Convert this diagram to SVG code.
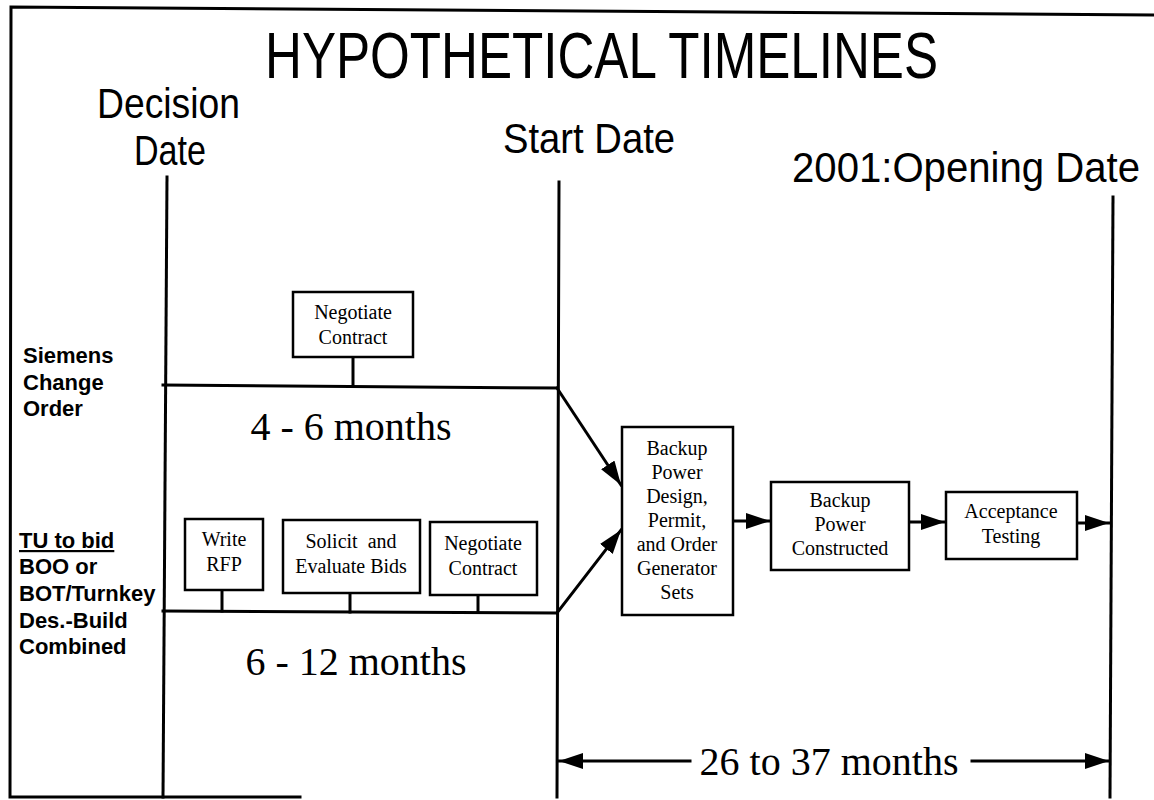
<svg xmlns="http://www.w3.org/2000/svg" width="1154" height="800" viewBox="0 0 1154 800">
<style>
.ln{stroke:#000;stroke-width:3;fill:none;stroke-linecap:square}
.bx{stroke:#000;stroke-width:2.5;fill:#fff}
.hd{font-family:"Liberation Sans",Arial,sans-serif;fill:#000}
.lb{font-family:"Liberation Sans",Arial,sans-serif;font-weight:bold;font-size:22px;fill:#000}
.tm{font-family:"Liberation Serif","Times New Roman",serif;fill:#000;text-anchor:middle}
.sm{font-size:20px}
.bg{font-size:40px}
</style>
<defs>
<marker id="ah" markerUnits="userSpaceOnUse" markerWidth="26" markerHeight="18" refX="24" refY="8" orient="auto">
<path d="M0,0 L24,8 L0,16 Z" fill="#000"/>
</marker>
</defs>
<rect width="1154" height="800" fill="#fff"/>
<g id="frame">
<path class="ln" d="M1154,15 L11,7 L10,797 L300,797"/>
</g>
<g id="title"><text class="hd" x="265" y="78" font-size="64" textLength="673" lengthAdjust="spacingAndGlyphs">HYPOTHETICAL TIMELINES</text></g>
<g id="decision-date">
<text class="hd" x="97" y="118" font-size="42" textLength="143" lengthAdjust="spacingAndGlyphs">Decision</text>
<text class="hd" x="134" y="165" font-size="42" textLength="72" lengthAdjust="spacingAndGlyphs">Date</text>
</g>
<g id="start-date"><text class="hd" x="503" y="153" font-size="42" textLength="172" lengthAdjust="spacingAndGlyphs">Start Date</text></g>
<g id="opening-date"><text class="hd" x="792" y="182" font-size="42" textLength="348" lengthAdjust="spacingAndGlyphs">2001:Opening Date</text></g>
<g id="siemens-label">
<text class="lb" x="23" y="363">Siemens</text>
<text class="lb" x="23" y="390">Change</text>
<text class="lb" x="23" y="416">Order</text>
</g>
<g id="tu-label">
<text class="lb" x="19" y="548" text-decoration="underline">TU to bid</text>
<text class="lb" x="19" y="574">BOO or</text>
<text class="lb" x="19" y="601">BOT/Turnkey</text>
<text class="lb" x="19" y="628">Des.-Build</text>
<text class="lb" x="19" y="654">Combined</text>
</g>
<g id="connectors">
<path class="ln" d="M167,177 L163,797"/>
<path class="ln" d="M559,182 L557,797"/>
<path class="ln" d="M1113,197 L1110,797"/>
<path class="ln" d="M163,385 L557,388"/>
<path class="ln" d="M163,611 L557,613"/>
<path class="ln" d="M353,357 L353,386"/>
<path class="ln" d="M222,590 L222,611"/>
<path class="ln" d="M350,593 L350,612"/>
<path class="ln" d="M478,595 L478,612"/>
<path class="ln" d="M557,388 L621,485" marker-end="url(#ah)"/>
<path class="ln" d="M557,613 L621,530" marker-end="url(#ah)"/>
<path class="ln" d="M733,521 L770,521" marker-end="url(#ah)"/>
<path class="ln" d="M909,522 L945,522" marker-end="url(#ah)"/>
<path class="ln" d="M1077,523 L1109,523" marker-end="url(#ah)"/>
<path class="ln" d="M690,761 L559,761" marker-end="url(#ah)"/>
<path class="ln" d="M972,761 L1109,761" marker-end="url(#ah)"/>
</g>
<g id="negotiate-siemens">
<rect class="bx" x="293" y="292" width="120" height="65"/>
<text class="tm sm" x="353" y="319">Negotiate</text>
<text class="tm sm" x="353" y="344">Contract</text>
</g>
<g id="dur-siemens"><text class="tm bg" x="351" y="440">4 - 6 months</text></g>
<g id="write-rfp">
<rect class="bx" x="185" y="519" width="78" height="71"/>
<text class="tm sm" x="224" y="546">Write</text>
<text class="tm sm" x="224" y="571">RFP</text>
</g>
<g id="solicit">
<rect class="bx" x="283" y="520" width="137" height="73"/>
<text class="tm sm" x="351" y="548" xml:space="preserve">Solicit  and</text>
<text class="tm sm" x="351" y="573">Evaluate Bids</text>
</g>
<g id="negotiate-tu">
<rect class="bx" x="430" y="522" width="107" height="73"/>
<text class="tm sm" x="483" y="550">Negotiate</text>
<text class="tm sm" x="483" y="575">Contract</text>
</g>
<g id="dur-tu"><text class="tm bg" x="356" y="675">6 - 12 months</text></g>
<g id="backup-design">
<rect class="bx" x="622" y="427" width="111" height="188"/>
<text class="tm" font-size="20" x="677" y="455">Backup</text>
<text class="tm" font-size="20" x="677" y="479">Power</text>
<text class="tm" font-size="20" x="677" y="503">Design,</text>
<text class="tm" font-size="20" x="677" y="527">Permit,</text>
<text class="tm" font-size="20" x="677" y="551">and Order</text>
<text class="tm" font-size="20" x="677" y="575">Generator</text>
<text class="tm" font-size="20" x="677" y="599">Sets</text>
</g>
<g id="backup-constructed">
<rect class="bx" x="771" y="482" width="138" height="88"/>
<text class="tm" font-size="20" x="840" y="507">Backup</text>
<text class="tm" font-size="20" x="840" y="531">Power</text>
<text class="tm" font-size="20" x="840" y="555">Constructed</text>
</g>
<g id="acceptance">
<rect class="bx" x="946" y="492" width="131" height="67"/>
<text class="tm" font-size="20" x="1011" y="518">Acceptance</text>
<text class="tm" font-size="20" x="1011" y="543">Testing</text>
</g>
<g id="dur-total"><text class="tm bg" x="829" y="775">26 to 37 months</text></g>
</svg>
